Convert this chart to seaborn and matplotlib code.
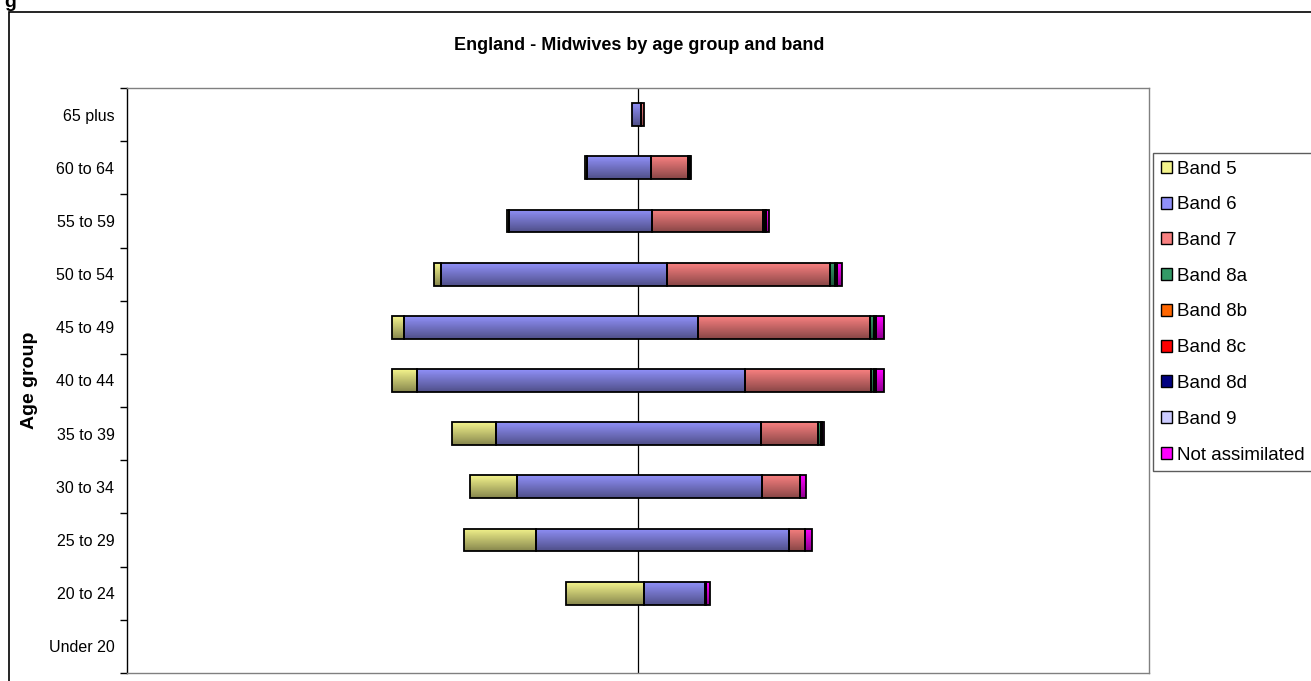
import numpy as np
import pandas as pd
import matplotlib
matplotlib.use("Agg")
import matplotlib.pyplot as plt
from matplotlib.patches import Rectangle
import seaborn as sns

# Age groups, top to bottom
age_groups = ["65 plus", "60 to 64", "55 to 59", "50 to 54", "45 to 49",
              "40 to 44", "35 to 39", "30 to 34", "25 to 29", "20 to 24", "Under 20"]

# Headcount by band for each age group
band_5 = [0, 16, 18, 54, 96, 203, 350, 374, 576, 621, 0]
band_6 = [74, 514, 1146, 1813, 2358, 2632, 2128, 1970, 2030, 491, 0]
band_7 = [22, 296, 888, 1312, 1381, 1008, 458, 302, 134, 10, 0]
band_8a = [0, 8, 14, 34, 30, 26, 22, 0, 0, 0, 0]
band_8b = [0, 0, 13, 18, 18, 14, 8, 0, 0, 0, 0]
band_8c = [0, 0, 0, 0, 0, 0, 0, 0, 0, 0, 0]
band_8d = [0, 4, 0, 0, 0, 0, 0, 0, 0, 0, 0]
band_9 = [0, 0, 0, 0, 0, 0, 0, 0, 0, 0, 0]
not_assimilated = [0, 6, 21, 40, 67, 64, 13, 48, 53, 30, 0]

band_names = ["Band 5", "Band 6", "Band 7", "Band 8a", "Band 8b", "Band 8c",
              "Band 8d", "Band 9", "Not assimilated"]
band_colors = ["#F4F48C", "#9090F8", "#F88080", "#339966", "#FF6600", "#FF0000",
               "#000080", "#CCCCFF", "#FF00FF"]

df = pd.DataFrame({
    "Band 5": band_5, "Band 6": band_6, "Band 7": band_7, "Band 8a": band_8a,
    "Band 8b": band_8b, "Band 8c": band_8c, "Band 8d": band_8d, "Band 9": band_9,
    "Not assimilated": not_assimilated,
}, index=age_groups)

sns.set_theme(style="white")
plt.rcParams["font.family"] = ["Liberation Sans", "DejaVu Sans"]
plt.rcParams["text.color"] = "black"
plt.rcParams["ytick.color"] = "black"
plt.rcParams["ytick.labelcolor"] = "black"
palette = sns.color_palette(band_colors)

fig = plt.figure(figsize=(13.11, 6.81), dpi=100)
ax = fig.add_axes([127 / 1311, 1 - 673 / 681, (1149 - 127) / 1311, (673 - 88) / 681])

y = np.arange(len(age_groups))
totals = df.sum(axis=1).values
left = -totals / 2.0
bar_h = 0.43

# shading: vertical darkening towards the bottom of each bar
grad = np.zeros((64, 1, 4))
grad[..., 3] = np.linspace(0.0, 0.45, 64).reshape(-1, 1)

for name, color in zip(band_names, palette):
    vals = df[name].values
    bars = ax.barh(y, vals, left=left, height=bar_h, color=color,
                   edgecolor="none", linewidth=0, zorder=2, label=name)
    for p, v in zip(bars.patches, vals):
        if v <= 0:
            continue
        x0, y0, w, h = p.get_x(), p.get_y(), p.get_width(), p.get_height()
        im = ax.imshow(grad, extent=[x0, x0 + w, y0 + h, y0], origin="upper",
                       aspect="auto", interpolation="bilinear", zorder=2.5)
        im.set_clip_path(p)
    ax.barh(y[vals > 0], vals[vals > 0], left=left[vals > 0], height=bar_h,
            fill=False, edgecolor="black", linewidth=1.3, zorder=3)
    left = left + vals

lim = 4100
ax.set_xlim(-lim, lim)
ax.set_ylim(len(age_groups) - 0.5, -0.5)
ax.axvline(0, color="black", linewidth=0.9, zorder=1)

ax.set_xticks([])
ax.set_yticks(np.arange(len(age_groups) + 1) - 0.5)
ax.set_yticklabels([])
ax.set_yticks(y, minor=True)
ax.set_yticklabels(age_groups, minor=True, fontsize=11.5)
ax.tick_params(axis="y", which="major", length=5, width=1, color="black",
               direction="out", left=True)
ax.tick_params(axis="y", which="minor", length=0, pad=9)
ax.set_ylabel("")

for side in ["top", "right", "bottom"]:
    ax.spines[side].set_color("#808080")
    ax.spines[side].set_linewidth(1)
ax.spines["left"].set_color("black")
ax.spines["left"].set_linewidth(1)

fig.text(639 / 1311, 1 - 45 / 681, "England - Midwives by age group and band",
         ha="center", va="center", fontsize=13, fontweight="bold")
fig.text(30 / 1311, 1 - 380 / 681, "Age group", rotation=90, ha="center",
         va="center", fontsize=14, fontweight="bold")
fig.text(4 / 1311, 1 - 7 / 681, "g", ha="left", va="baseline", fontsize=14,
         fontweight="bold")

# outer chart frame
fig.patches.append(Rectangle((9 / 1311, -0.05), 1.0, 1 - 12 / 681 + 0.05,
                             transform=fig.transFigure, fill=False,
                             edgecolor="black", linewidth=1.2))

handles = [Rectangle((0, 0), 1, 1, facecolor=c, edgecolor="black", linewidth=1)
           for c in palette]
leg = fig.legend(handles, band_names, loc="upper left",
                 bbox_to_anchor=(1153 / 1311, 1 - 153 / 681),
                 fontsize=13.5, frameon=True, fancybox=False, edgecolor="#333333",
                 handlelength=0.6, handleheight=0.6, handletextpad=0.3,
                 labelspacing=1.0, borderpad=0.4, borderaxespad=0)
leg.get_frame().set_linewidth(1)

fig.savefig("out.png", dpi=100)
